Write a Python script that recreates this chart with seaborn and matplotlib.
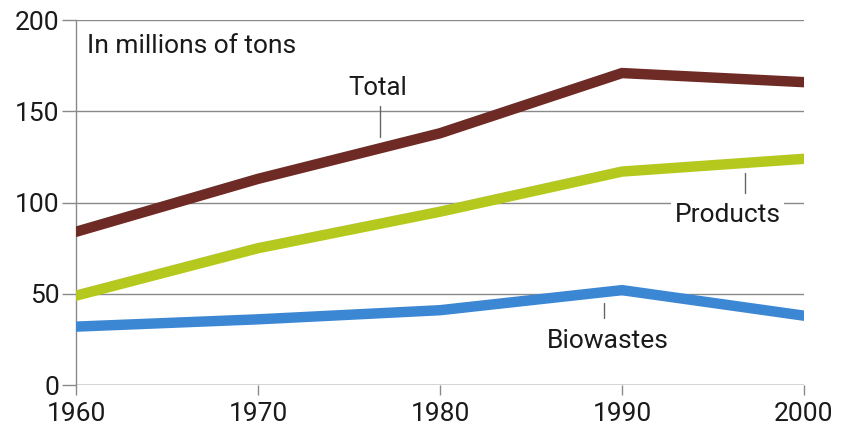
import matplotlib
matplotlib.use("Agg")
import matplotlib.pyplot as plt
import seaborn as sns
import pandas as pd

years = [1960, 1970, 1980, 1990, 2000]
total = [84, 113, 138, 171, 166]
products = [49, 75, 95, 117, 124]
biowastes = [32, 36, 41, 52, 38]

series_names = ["Total", "Products", "Biowastes"]
series_colors = ["#6e2a24", "#b4c81e", "#3b87d3"]
y_ticks = [0, 50, 100, 150, 200]
x_ticks = [1960, 1970, 1980, 1990, 2000]

sns.set_theme(style="white")
plt.rcParams["font.family"] = ["Roboto", "DejaVu Sans"]

df = pd.DataFrame({
    "year": years * 3,
    "tons": total + products + biowastes,
    "series": [n for n in series_names for _ in years],
})

fig = plt.figure(figsize=(8.43, 4.38), dpi=100)
ax = fig.add_axes([0.0902, 0.121, 0.8635, 0.833])

sns.lineplot(data=df, x="year", y="tons", hue="series", hue_order=series_names,
             palette=series_colors, linewidth=7.5, legend=False, ax=ax,
             solid_joinstyle="miter", zorder=3)

ax.set_xlim(1960, 2000)
ax.set_ylim(0, 200)
ax.set_xticks(x_ticks)
ax.set_yticks(y_ticks)
ax.set_xlabel("")
ax.set_ylabel("")
ax.grid(axis="y", color="#8a8a8a", linewidth=1.0, zorder=1)
ax.grid(axis="x", visible=False)
for side in ["top", "right", "bottom"]:
    ax.spines[side].set_visible(False)
ax.spines["left"].set_color("#8a8a8a")
ax.spines["left"].set_linewidth(1.0)
ax.tick_params(axis="y", direction="out", length=10, width=1.0, color="#8a8a8a",
               labelsize=19, pad=2, left=True)
ax.tick_params(axis="x", direction="out", length=7, width=1.0, color="#8a8a8a",
               labelsize=19, pad=5, bottom=True)
for lab in ax.get_xticklabels() + ax.get_yticklabels():
    lab.set_color("#1a1a1a")
ax.axhline(0, color="#8a8a8a", linewidth=1.0, zorder=1)

ax.text(1960.6, 186, "In millions of tons", fontsize=19, color="#1a1a1a",
        ha="left", va="center")

# series labels with short leader lines
ax.text(1976.6, 163, "Total", fontsize=18.5, color="#1a1a1a", ha="center", va="center")
ax.plot([1976.7, 1976.7], [153, 136], color="#666666", linewidth=1.0)

ax.text(1995.8, 93, "Products", fontsize=19, color="#1a1a1a", ha="center", va="center",
        zorder=4, bbox=dict(boxstyle="square,pad=0.15", facecolor="white",
                            edgecolor="none"))
ax.plot([1996.75, 1996.75], [116, 105], color="#666666", linewidth=1.0)

ax.text(1989.2, 24, "Biowastes", fontsize=19, color="#1a1a1a", ha="center", va="center")
ax.plot([1989.0, 1989.0], [45, 37], color="#666666", linewidth=1.0)

fig.savefig("out.png", dpi=100)
